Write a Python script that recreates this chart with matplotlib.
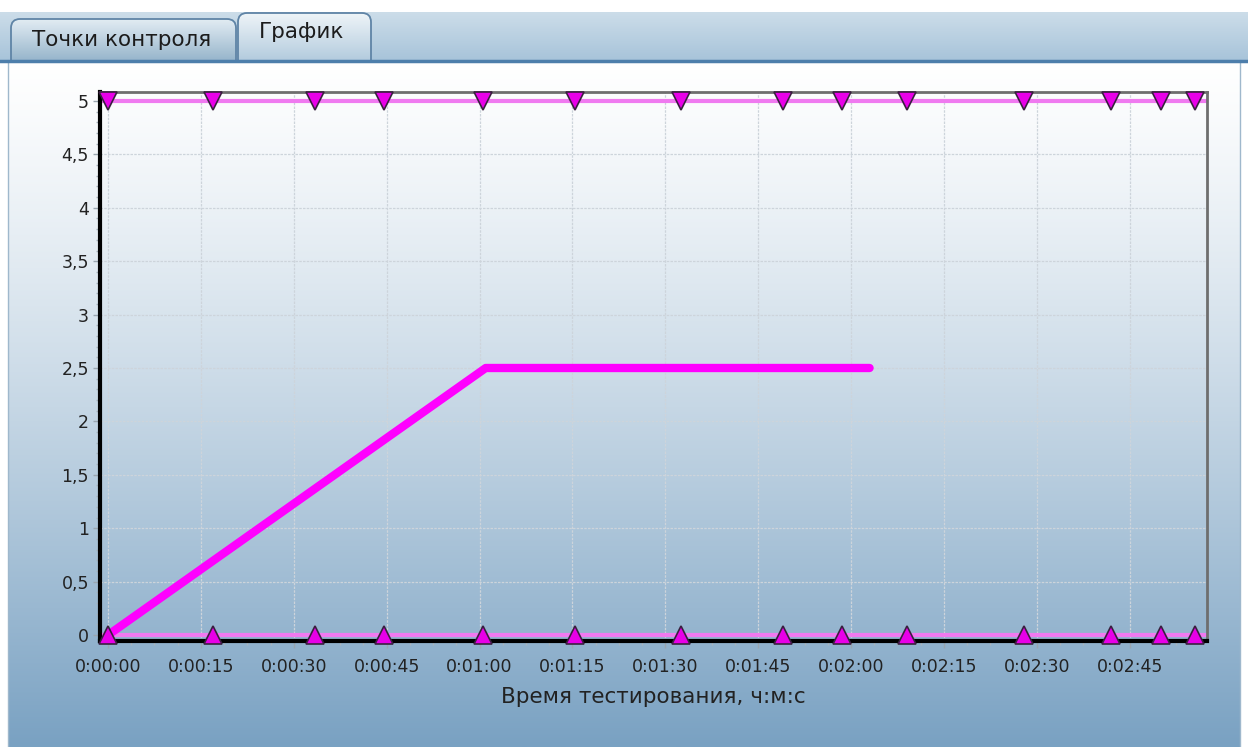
import numpy as np
import matplotlib.pyplot as plt
from matplotlib.patches import FancyBboxPatch, Rectangle
from matplotlib.ticker import MultipleLocator, AutoMinorLocator, FuncFormatter

plt.rcParams['font.family'] = ['DejaVu Sans']

# data (seconds / value)
line_t = [0, 61, 123]
line_v = [0, 2.5, 2.5]
event_t = [0, 17, 33.5, 44.5, 60.5, 75.5, 92.5, 109, 118.5, 129, 148, 162, 170, 175.5]
upper_level = 5
lower_level = 0
tab_names = ['Точки контроля', 'График']
x_label = 'Время тестирования, ч:м:с'

W, H = 1248, 747
fig = plt.figure(figsize=(W / 100, H / 100), dpi=100)

# background in pixel coordinates
bg = fig.add_axes([0, 0, 1, 1], zorder=-10)
bg.set_xlim(0, W)
bg.set_ylim(H, 0)
bg.axis('off')


def vgrad(c1, c2, n=200, power=1.0):
    s = np.linspace(0, 1, n) ** power
    a = np.array(c1) / 255
    b = np.array(c2) / 255
    return (a[None, :] * (1 - s[:, None]) + b[None, :] * s[:, None])[:, None, :]


# panel gradient
bg.imshow(vgrad((255, 255, 255), (0x79, 0xA1, 0xC2), 400, 1.25),
          extent=[8, 1240, 747, 60], aspect='auto', zorder=0)
bg.add_patch(Rectangle((0, 0), W, 12, color='white', zorder=1))

# tab strip
bg.imshow(vgrad((0xCC, 0xDD, 0xE9), (0xA8, 0xC4, 0xDA), 50),
          extent=[0, W, 60, 12], aspect='auto', zorder=1)
bg.plot([8, 8], [60, 747], color='#9fb8cc', lw=1, zorder=3)
bg.plot([1240, 1240], [60, 747], color='#9fb8cc', lw=1, zorder=3)

# tabs
strip_clip = Rectangle((0, 0), W, 60.5, transform=bg.transData)
tabs = [((11, 19, 225, 41), ((0xE2, 0xEC, 0xF3), (0x98, 0xB6, 0xCC))),
        ((238, 13, 133, 47), ((0xEE, 0xF4, 0xF8), (0xB4, 0xCC, 0xDE)))]
for (x0, y0, w, h), (c1, c2) in tabs:
    shape = FancyBboxPatch((x0, y0), w, h + 12, boxstyle='round,pad=0,rounding_size=9',
                           fc='none', ec='#5f84a6', lw=1.3, zorder=5)
    bg.add_patch(shape)
    shape.set_clip_path(strip_clip)
    im = bg.imshow(vgrad(c1, c2, 60), extent=[x0, x0 + w, y0 + h, y0],
                   aspect='auto', zorder=4)
    im.set_clip_path(shape)
bg.plot([0, W], [60.5, 60.5], color='#4d7eab', lw=2.5, zorder=6)
bg.text(122, 40, tab_names[0], ha='center', va='center', fontsize=15.5, color='#1c1c1c', zorder=7)
bg.text(302, 32, tab_names[1], ha='center', va='center', fontsize=15.5, color='#1c1c1c', zorder=7)

# chart
ax = fig.add_axes([100 / W, 1 - 641 / H, 1107 / W, 549 / H])
ax.patch.set_alpha(0)

ax.axhline(upper_level, color='#f07af0', lw=3, zorder=2)
ax.axhline(lower_level, color='#f07af0', lw=3, zorder=2)
ax.plot(line_t, line_v, color='#ff00ff', lw=6, solid_capstyle='round', zorder=3)
ax.plot(event_t, [upper_level] * len(event_t), ls='none', marker='v', ms=12.5,
        mfc='#e800e8', mec='#3a2040', mew=1.2, clip_on=False, zorder=4)
ax.plot(event_t, [lower_level] * len(event_t), ls='none', marker='^', ms=12.5,
        mfc='#e800e8', mec='#3a2040', mew=1.2, clip_on=False, zorder=4)

ax.set_xlim(-1.3, 177.5)
ax.set_ylim(-0.056, 5.084)
ax.xaxis.set_major_locator(MultipleLocator(15))
ax.xaxis.set_minor_locator(AutoMinorLocator(4))
ax.yaxis.set_major_locator(MultipleLocator(0.5))
ax.yaxis.set_minor_locator(AutoMinorLocator(5))


def fmt_time(v, pos):
    s = int(round(v))
    return '%d:%02d:%02d' % (s // 3600, (s % 3600) // 60, s % 60)


def fmt_num(v, pos):
    return ('%g' % round(v, 2)).replace('.', ',')


ax.xaxis.set_major_formatter(FuncFormatter(fmt_time))
ax.yaxis.set_major_formatter(FuncFormatter(fmt_num))
ax.tick_params(axis='both', which='major', labelsize=12.5, colors='#9aa6b0',
               labelcolor='#222222', length=5, width=1)
ax.tick_params(axis='both', which='minor', colors='#a8b4be', length=3, width=1)
ax.tick_params(axis='x', which='major', pad=7)
ax.tick_params(axis='y', which='major', pad=3)

ax.grid(True, which='major', color='#cdd4db', lw=0.9, ls=(0, (2, 1)), zorder=1)

for side in ['left', 'bottom']:
    ax.spines[side].set_color('black')
    ax.spines[side].set_linewidth(3)
for side in ['top', 'right']:
    ax.spines[side].set_color('#6e6e6e')
    ax.spines[side].set_linewidth(2)

ax.set_xlabel(x_label, fontsize=15.5, color='#222222', labelpad=8)

fig.savefig('out.png', dpi=100)
